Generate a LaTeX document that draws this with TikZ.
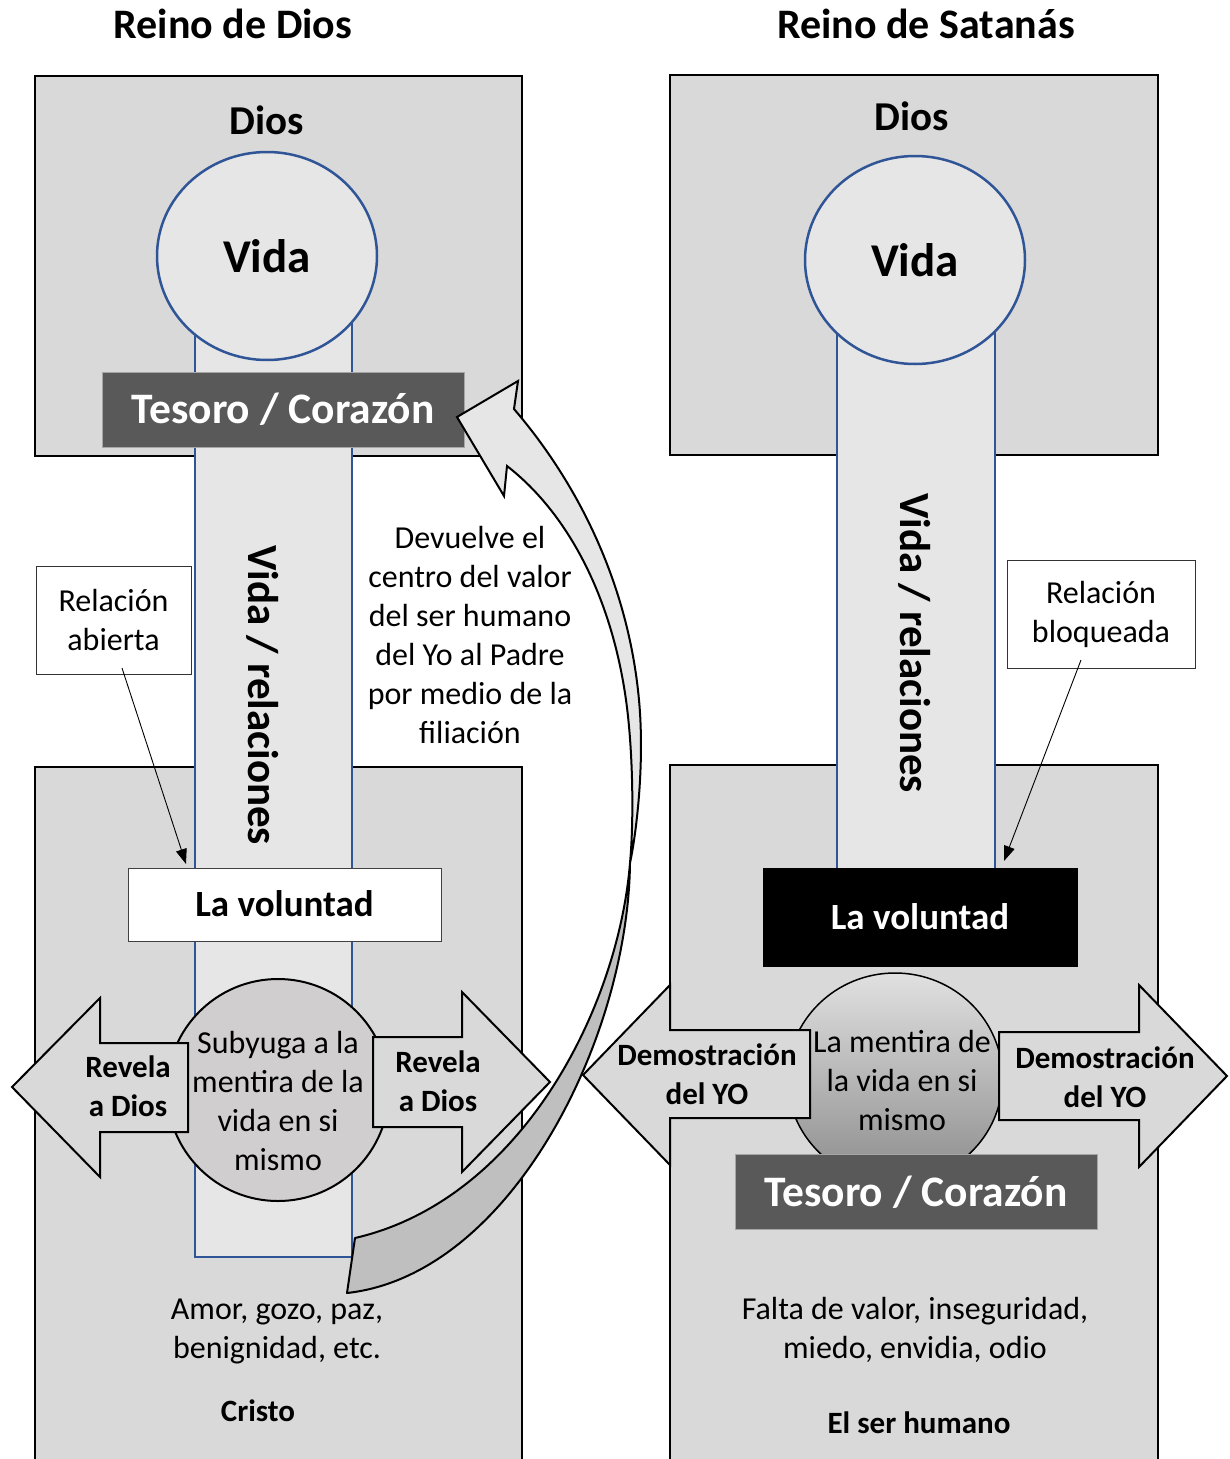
\documentclass[tikz,border=0pt]{standalone}
\usepackage{fontspec}
\setmainfont{Carlito}
\usetikzlibrary{arrows.meta,shapes.geometric}
\definecolor{boxgray}{HTML}{D9D9D9}
\definecolor{bandgray}{HTML}{E7E6E6}
\definecolor{lineblue}{HTML}{2F5597}
\definecolor{darkbox}{HTML}{595959}
\definecolor{circgray}{HTML}{D0CECE}
\definecolor{bandback}{HTML}{BFBFBF}
\tikzset{
  panel/.style={draw=black, line width=2.5pt, fill=boxgray},
  bandfill/.style={fill=bandgray},
  bandedge/.style={draw=lineblue, line width=2pt},
  lifecirc/.style={ellipse, draw=lineblue, line width=2.5pt, fill=bandgray,
    minimum width=220pt, minimum height=208pt, inner sep=0pt,
    font=\fontsize{47}{56}\selectfont\bfseries},
  treasure/.style={rectangle, draw=black!35, line width=1pt, fill=darkbox, text=white,
    minimum width=362pt, minimum height=75pt, inner sep=0pt,
    text height=28pt, text depth=0pt, font=\fontsize{43.5}{52}\selectfont\bfseries},
  willbox/.style={rectangle, line width=1pt, minimum width=313pt, inner sep=0pt,
    text height=24pt, text depth=0pt, font=\fontsize{37}{44}\selectfont\bfseries},
  calloutbox/.style={rectangle, draw=black!80, line width=1pt, fill=white, inner sep=0pt,
    align=center, font=\fontsize{32}{39}\selectfont},
  callarrow/.style={-{Triangle[length=15pt,width=11pt]}, line width=0.9pt},
  arrowshape/.style={draw=black, line width=2pt, fill=boxgray, line join=miter},
  lbl/.style={anchor=base, align=center, font=\fontsize{32}{39}\selectfont},
  blbl/.style={anchor=base, align=center, font=\fontsize{31}{39}\selectfont\bfseries},
  title/.style={anchor=base, font=\fontsize{42}{50}\selectfont\bfseries},
  godlbl/.style={anchor=base, font=\fontsize{41}{50}\selectfont\bfseries},
  vertlbl/.style={rotate=-90, anchor=center, text height=27.7pt, text depth=0pt,
    inner sep=0pt, font=\fontsize{43}{50}\selectfont\bfseries},
  curvefront/.style={draw=black, line width=2pt, fill=bandgray, line join=miter},
  curveback/.style={draw=black, line width=2pt, fill=bandback, line join=round},
}
\begin{document}
\begin{tikzpicture}[x=1pt,y=-1pt]
\useasboundingbox (0,0) rectangle (1229,1459);
\clip (0,0) rectangle (1229,1459);

% ---------------- LEFT: Reino de Dios ----------------
\node[title] (tl) at (233,38.5) {Reino de Dios};
\draw[panel] (35,76) rectangle (522,456);
\draw[panel] (35,767) rectangle (522,1480);
% band
\fill[bandfill] (195,300) rectangle (352,1257);
\draw[bandedge] (195,300) -- (195,1257) -- (352,1257) -- (352,300);
\node[godlbl] (dl) at (267,134) {Dios};
\node[lifecirc] (vl) at (267,256) {Vida};
\node[treasure] (tsl) at (283,409.5) {Tesoro / Corazón};
\node[vertlbl] (rll) at (262,695) {Vida / relaciones};
\node[willbox, draw=black!75, fill=white, minimum height=73pt] (wl) at (284.5,904.5) {La voluntad};
\node[circle, draw=black, line width=2pt, fill=circgray, minimum size=222pt, inner sep=0pt] (sc) at (278,1090) {};
\node[lbl] (sct) at (278,1170.3) {Subyuga a la\\mentira de la\\vida en si\\mismo};
% revela arrows
\draw[arrowshape] (12,1087) -- (100,998) -- (100,1043) -- (188,1043) -- (188,1132) -- (100,1132) -- (100,1177) -- cycle;
\node[blbl] (rvl) at (128,1116) {Revela\\a Dios};
\draw[arrowshape] (550,1082) -- (462,992) -- (462,1037) -- (373,1037) -- (373,1127) -- (462,1127) -- (462,1172) -- cycle;
\node[blbl] (rvr) at (438,1111) {Revela\\a Dios};
% callout
\node[calloutbox, minimum width=155pt, minimum height=108pt] (ra) at (113.5,620) {Relación\\abierta};
\coordinate (ras) at (122,668);
\coordinate (rae) at (186,864);
\draw[callarrow] (ras) -- (rae);
% texts
\node[lbl] (dev) at (470,743.3) {Devuelve el\\centro del valor\\del ser humano\\del Yo al Padre\\por medio de la\\filiación};
\node[lbl] (amor) at (277,1358.3) {Amor, gozo, paz,\\benignidad, etc.};
\node[blbl] (cr) at (258,1421) {Cristo};

% ---------------- RIGHT: Reino de Satanás ----------------
\node[title] (tr) at (926,38.5) {Reino de Satanás};
\draw[panel] (670,75) rectangle (1158,455);
\draw[panel] (670,765) rectangle (1158,1480);
\fill[bandfill] (837,300) rectangle (995,880);
\draw[bandedge] (837,300) -- (837,880);
\draw[bandedge] (995,300) -- (995,880);
\node[godlbl] (dr) at (912,130) {Dios};
\node[lifecirc] (vr) at (915,260) {Vida};
\node[vertlbl] (rlr) at (914,643) {Vida / relaciones};
\node[willbox, draw=black, fill=black, text=white, minimum width=314pt, minimum height=98pt] (wr) at (920,917) {La voluntad};
\node[ellipse, draw=black, line width=1.5pt, minimum width=215pt, minimum height=210pt, inner sep=0pt,
      top color=black!12, middle color=white, bottom color=black!45] (sp) at (895,1078) {};
\node[lbl] (spt) at (902,1130.3) {La mentira de\\la vida en si\\mismo};
\draw[arrowshape] (583,1075) -- (670,985) -- (670,1030) -- (810,1030) -- (810,1118) -- (670,1118) -- (670,1165) -- cycle;
\node[blbl] (dml) at (707,1104) {Demostración\\del YO};
\draw[arrowshape] (1227,1076) -- (1139,985) -- (1139,1032) -- (999,1032) -- (999,1120) -- (1139,1120) -- (1139,1167) -- cycle;
\node[blbl] (dmr) at (1105,1107) {Demostración\\del YO};
\node[treasure] (tsr) at (916,1192) {Tesoro / Corazón};
\node[calloutbox, minimum width=188pt, minimum height=108pt] (rb) at (1101,614) {Relación\\bloqueada};
\coordinate (rbs) at (1081,660);
\coordinate (rbe) at (1004,861);
\draw[callarrow] (rbs) -- (rbe);
\node[lbl] (falta) at (915,1358.3) {Falta de valor, inseguridad,\\miedo, envidia, odio};
\node[blbl] (esh) at (919,1433) {El ser humano};

% ---------------- curved arrow ----------------
\path[curveback] (630,863) .. controls (618,1010) and (520,1200) .. (355,1238)
  -- (347,1293) .. controls (510,1275) and (628,1040) .. (630,863) -- cycle;
\path[curvefront] (457,417) -- (518,381) -- (514,409)
  .. controls (575,480) and (628,580) .. (639,700)
  .. controls (645,765) and (636,835) .. (630,863)
  .. controls (634,820) and (633,750) .. (626,700)
  .. controls (612,600) and (570,515) .. (507,466)
  -- (504,496) -- cycle;
\end{tikzpicture}
\end{document}
